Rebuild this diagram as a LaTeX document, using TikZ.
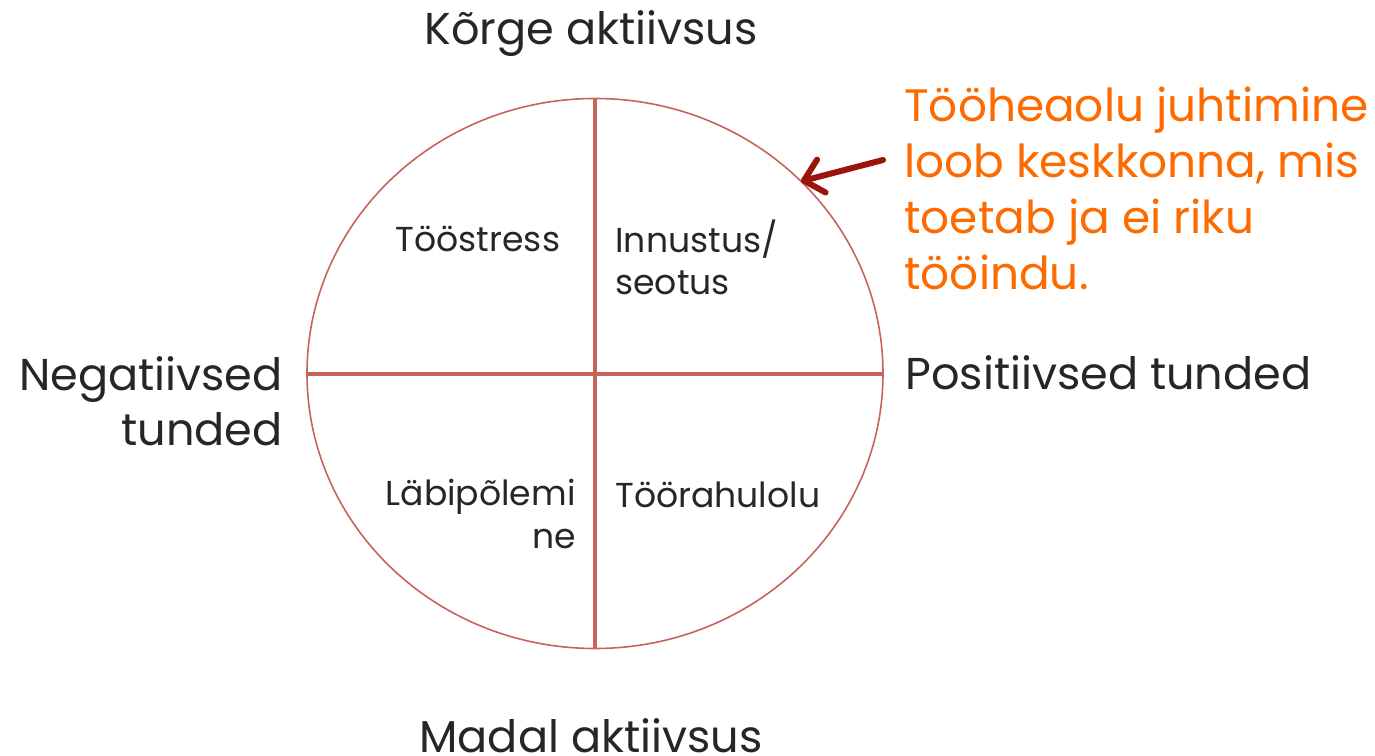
\documentclass[tikz,border=0pt]{standalone}
\usepackage{fontspec}
\setmainfont{Poppins}
\usetikzlibrary{arrows.meta,positioning,shapes.geometric}
\definecolor{axisred}{RGB}{202,98,92}
\definecolor{arrowred}{RGB}{155,20,10}
\definecolor{noteorange}{RGB}{252,106,0}
\definecolor{textgray}{RGB}{38,38,38}

\begin{document}
\begin{tikzpicture}
[node distance=1cm, >={Straight Barb[length=9pt,width=17pt,round]}, text=textgray]
\tikzstyle{quad}=[ellipse, draw=axisred, line width=0.8pt, minimum width=288pt, minimum height=275pt, inner sep=0pt, outer sep=0pt]
\tikzstyle{axis}=[draw=axisred, line width=2pt]
\tikzstyle{lbl}=[font=\fontsize{22.3}{27.5}\selectfont, inner sep=0pt, align=left]
\tikzstyle{cell}=[font=\fontsize{17.3}{21.5}\selectfont, inner sep=0pt]
\tikzstyle{note}=[font=\fontsize{22.7}{28}\selectfont, text=noteorange, inner sep=0pt, align=left]

\useasboundingbox (-297.5pt,-190.75pt) rectangle (390pt,186.75pt);

\node[quad] (circ) at (0,0) {};
\draw[axis] (circ.north) -- (circ.south);
\draw[axis] (circ.west) -- (circ.east);

\node[lbl] (lbl_top) [above of = circ, node distance = 164.25pt, xshift = -2pt, anchor = base] {Kõrge aktiivsus};
\node[lbl] (lbl_bot) [below of = circ, node distance = 189.25pt, xshift = -2pt, anchor = base] {Madal aktiivsus};
\node[lbl, align=right] (lbl_neg) [left of = circ, node distance = 156pt, yshift = -35.75pt, anchor = base east] {Negatiivsed\\tunded};
\node[lbl] (lbl_pos) [right of = circ, node distance = 155pt, yshift = -8.25pt, anchor = base west] {Positiivsed tunded};

\node[cell, anchor=base] (cell_11) at (-58.5pt,60.75pt) {Tööstress};
\node[cell, anchor=base west, align=left] (cell_12) at (10pt,39.25pt) {Innustus/\\seotus};
\node[cell, anchor=base east, align=right] (cell_21) at (-9.5pt,-87.25pt) {Läbipõlemi\\ne};
\node[cell, anchor=base west] (cell_22) at (10pt,-66.75pt) {Töörahulolu};

\node[note] (note_txt) [right of = circ, node distance = 154.5pt, yshift = 41.75pt, anchor = base west] {Tööheaolu juhtimine\\loob keskkonna, mis\\toetab ja ei riku\\tööindu.};
\coordinate (note_tail) at (144pt,106.75pt);
\draw[->, draw=arrowred, line width=3pt, line cap=round] (note_tail) -- (circ.43);
\end{tikzpicture}
\end{document}
